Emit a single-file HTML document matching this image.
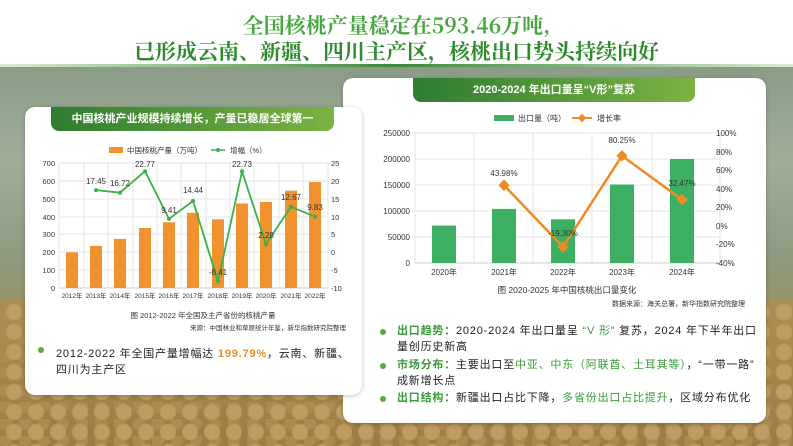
<!DOCTYPE html>
<html><head><meta charset="utf-8"><style>
*{margin:0;padding:0;box-sizing:border-box}
body{width:793px;height:446px;overflow:hidden;position:relative;font-family:"Liberation Sans","Noto Sans CJK SC",sans-serif;background:#fff}
.bg{position:absolute;left:0;top:66px;width:793px;height:380px;background:linear-gradient(180deg,#8a9c86 0%,#a0ae98 25%,#8e9a80 50%,#a08d5a 72%,#a88a4e 100%)}
.bg2{position:absolute;left:0;top:300px;width:793px;height:146px;background:radial-gradient(circle at 14px 12px,#c4a066 7px,transparent 9px) 0 0/22px 20px,radial-gradient(circle at 5px 4px,#b08a50 6px,transparent 8px) 0 0/19px 17px,linear-gradient(#b0904f,#9a7a45);opacity:.85}
.line{position:absolute;left:0;top:64px;width:793px;height:3px;background:linear-gradient(90deg,#d9ecd0,#3d8a3a 50%,#d9ecd0)}
.t{position:absolute;left:0;width:793px;text-align:center;font-family:"Noto Serif CJK SC","Liberation Serif",serif;font-weight:bold;font-size:21px;color:#48a640}
.panel{position:absolute;background:#fff;border-radius:10px;box-shadow:0 1px 4px rgba(0,0,0,.25)}
.hdr{position:absolute;background:linear-gradient(90deg,#2e7d32,#7cb342);color:#fff;font-size:11px;font-weight:bold;text-align:center;border-radius:0 0 8px 8px}
.txt{position:absolute;font-size:11px;color:#222;line-height:16px;letter-spacing:.8px}
.dot{position:absolute;width:6px;height:6px;border-radius:3px;background:#5aaa3a}
.g{color:#3a9a3a;font-weight:bold}
</style></head><body>
<div class="bg"></div><div class="bg2"></div><div class="line"></div>
<div class="t" style="top:10px">全国核桃产量稳定在593.46万吨,</div>
<div class="t" style="top:36px;color:#2d8a2d">已形成云南、新疆、四川主产区，核桃出口势头持续向好</div>

<div class="panel" style="left:343px;top:78px;width:423px;height:345px"></div>
<div class="hdr" style="left:413px;top:78px;width:282px;height:24px;line-height:24px">2020-2024 年出口量呈“V形”复苏</div>
<svg style="position:absolute;left:343px;top:102px" width="423" height="210" font-family="Liberation Sans,Noto Sans CJK SC,sans-serif" font-size="8" fill="#333">
<g transform="translate(-343,-102)">
<rect x="494" y="115" width="20" height="6" fill="#3cb060"/><text x="518" y="121">出口量（吨）</text>
<line x1="572" y1="118" x2="592" y2="118" stroke="#f08a24" stroke-width="2"/><rect x="579" y="115" width="6" height="6" fill="#f08a24" transform="rotate(45 582 118)"/><text x="597" y="121">增长率</text>
<g stroke="#e4e4e4" stroke-width="1">
<line x1="415" y1="133" x2="720" y2="133"/><line x1="415" y1="159" x2="720" y2="159"/><line x1="415" y1="185" x2="720" y2="185"/><line x1="415" y1="211" x2="720" y2="211"/><line x1="415" y1="237" x2="720" y2="237"/><line x1="415" y1="263" x2="720" y2="263" stroke="#ccc"/>
<line x1="415" y1="133" x2="415" y2="263"/><line x1="474" y1="133" x2="474" y2="263"/><line x1="533" y1="133" x2="533" y2="263"/><line x1="592" y1="133" x2="592" y2="263"/><line x1="652" y1="133" x2="652" y2="263"/><line x1="720" y1="133" x2="720" y2="263"/>
</g>
<g text-anchor="end"><text x="410" y="136">250000</text><text x="410" y="162">200000</text><text x="410" y="188">150000</text><text x="410" y="214">100000</text><text x="410" y="240">50000</text><text x="410" y="266">0</text></g>
<g><text x="716" y="136">100%</text><text x="716" y="155">80%</text><text x="716" y="173">60%</text><text x="716" y="192">40%</text><text x="716" y="210">20%</text><text x="716" y="229">0%</text><text x="716" y="247">-20%</text><text x="716" y="266">-40%</text></g>
<g fill="#3cb060"><rect x="432" y="225.6" width="24" height="37.4"/><rect x="492" y="208.9" width="24" height="54.1"/><rect x="551" y="219.3" width="24" height="43.7"/><rect x="610" y="184.5" width="24" height="78.5"/><rect x="670" y="159" width="24" height="104"/></g>
<polyline points="504,185.3 563,247 622,155.8 682,199.6" fill="none" stroke="#f08a24" stroke-width="2.5"/>
<g fill="#f08a24"><rect x="500" y="181.3" width="8" height="8" transform="rotate(45 504 185.3)"/><rect x="559" y="243" width="8" height="8" transform="rotate(45 563 247)"/><rect x="618" y="151.8" width="8" height="8" transform="rotate(45 622 155.8)"/><rect x="678" y="195.6" width="8" height="8" transform="rotate(45 682 199.6)"/></g>
<g text-anchor="middle"><text x="504" y="176">43.98%</text><text x="563" y="236">-19.30%</text><text x="622" y="143">80.25%</text><text x="682" y="186">32.47%</text>
<text x="444" y="275">2020年</text><text x="504" y="275">2021年</text><text x="563" y="275">2022年</text><text x="622" y="275">2023年</text><text x="682" y="275">2024年</text>
<text x="567" y="293" font-size="8.5">图 2020-2025 年中国核桃出口量变化</text></g>
<text x="745" y="306" text-anchor="end" font-size="7">数据来源：海关总署，新华指数研究院整理</text>
</g></svg>
<div class="dot" style="left:380px;top:329px"></div>
<div class="txt" style="left:397px;top:323px;width:362px"><span class="g">出口趋势：</span>2020-2024 年出口量呈 <span style="color:#3a9a3a">“V 形”</span> 复苏，2024 年下半年出口量创历史新高</div>
<div class="dot" style="left:380px;top:363px"></div>
<div class="txt" style="left:397px;top:357px;width:362px"><span class="g">市场分布：</span>主要出口至<span style="color:#3a9a3a">中亚、中东（阿联酋、土耳其等）</span>，“一带一路” 成新增长点</div>
<div class="dot" style="left:380px;top:396px"></div>
<div class="txt" style="left:397px;top:390px;width:362px"><span class="g">出口结构：</span>新疆出口占比下降，<span style="color:#3a9a3a">多省份出口占比提升</span>，区域分布优化</div>

<div class="panel" style="left:25px;top:107px;width:337px;height:288px"></div>
<div class="hdr" style="left:51px;top:107px;width:283px;height:24px;line-height:24px;border-radius:0 0 8px 8px">中国核桃产业规模持续增长，产量已稳居全球第一</div>
<svg style="position:absolute;left:0;top:0" width="380" height="340" font-family="Liberation Sans,Noto Sans CJK SC,sans-serif" font-size="7.5" fill="#333">
<rect x="109" y="147" width="14" height="6" fill="#f0922e"/><text x="127" y="153">中国核桃产量（万吨）</text>
<line x1="211" y1="150" x2="225" y2="150" stroke="#3cb04a" stroke-width="1.5"/><circle cx="218" cy="150" r="2" fill="#3cb04a"/><text x="230" y="153">增幅（%）</text>
<g stroke="#e6e6e6"><line x1="59" y1="163" x2="328" y2="163"/><line x1="59" y1="181" x2="328" y2="181"/><line x1="59" y1="199" x2="328" y2="199"/><line x1="59" y1="217" x2="328" y2="217"/><line x1="59" y1="234" x2="328" y2="234"/><line x1="59" y1="252" x2="328" y2="252"/><line x1="59" y1="270" x2="328" y2="270"/><line x1="59" y1="288" x2="328" y2="288" stroke="#ccc"/>
<line x1="59" y1="163" x2="59" y2="288"/><line x1="84" y1="163" x2="84" y2="288"/><line x1="108" y1="163" x2="108" y2="288"/><line x1="133" y1="163" x2="133" y2="288"/><line x1="157" y1="163" x2="157" y2="288"/><line x1="181" y1="163" x2="181" y2="288"/><line x1="206" y1="163" x2="206" y2="288"/><line x1="230" y1="163" x2="230" y2="288"/><line x1="254" y1="163" x2="254" y2="288"/><line x1="279" y1="163" x2="279" y2="288"/><line x1="303" y1="163" x2="303" y2="288"/><line x1="328" y1="163" x2="328" y2="288"/></g>
<g text-anchor="end"><text x="55" y="166">700</text><text x="55" y="184">600</text><text x="55" y="202">500</text><text x="55" y="220">400</text><text x="55" y="237">300</text><text x="55" y="255">200</text><text x="55" y="273">100</text><text x="55" y="291">0</text></g>
<g><text x="331" y="166">25</text><text x="331" y="184">20</text><text x="331" y="202">15</text><text x="331" y="220">10</text><text x="331" y="237">5</text><text x="331" y="255">0</text><text x="331" y="273">-5</text><text x="331" y="291">-10</text></g>
<g fill="#f0922e"><rect x="66" y="252.3" width="12" height="35.7"/><rect x="90" y="245.9" width="12" height="42.1"/><rect x="114" y="238.9" width="12" height="49.1"/><rect x="139" y="228" width="12" height="60"/><rect x="163" y="222.3" width="12" height="65.7"/><rect x="187" y="212.8" width="12" height="75.2"/><rect x="212" y="219.3" width="12" height="68.7"/><rect x="236" y="203.5" width="12" height="84.5"/><rect x="260" y="201.9" width="12" height="86.1"/><rect x="285" y="190.7" width="12" height="97.3"/><rect x="309" y="182.1" width="12" height="105.9"/></g>
<polyline points="96,190.1 120,192.7 145,171.2 169,218.9 193,201 218,281.3 242,171.4 266,244.1 291,206.7 315,216.8" fill="none" stroke="#3cb04a" stroke-width="1.8"/>
<g fill="#3cb04a"><circle cx="96" cy="190.1" r="2"/><circle cx="120" cy="192.7" r="2"/><circle cx="145" cy="171.2" r="2"/><circle cx="169" cy="218.9" r="2"/><circle cx="193" cy="201" r="2"/><circle cx="218" cy="281.3" r="2"/><circle cx="242" cy="171.4" r="2"/><circle cx="266" cy="244.1" r="2"/><circle cx="291" cy="206.7" r="2"/><circle cx="315" cy="216.8" r="2"/></g>
<g text-anchor="middle" font-size="8"><text x="96" y="184">17.45</text><text x="120" y="186">16.72</text><text x="145" y="167">22.77</text><text x="169" y="213">9.41</text><text x="193" y="193">14.44</text><text x="218" y="275">-8.41</text><text x="242" y="167">22.73</text><text x="266" y="238">2.28</text><text x="291" y="200">12.67</text><text x="315" y="210">9.83</text></g>
<g text-anchor="middle" font-size="6.5"><text x="72" y="298">2012年</text><text x="96" y="298">2013年</text><text x="120" y="298">2014年</text><text x="145" y="298">2015年</text><text x="169" y="298">2016年</text><text x="193" y="298">2017年</text><text x="218" y="298">2018年</text><text x="242" y="298">2019年</text><text x="266" y="298">2020年</text><text x="291" y="298">2021年</text><text x="315" y="298">2022年</text>
<text x="203" y="318" font-size="7.5">图 2012-2022 年全国及主产省份的核桃产量</text></g>
<text x="346" y="330" text-anchor="end" font-size="6.5">来源：中国林业和草原统计年鉴，新华指数研究院整理</text>
</svg>
<div class="dot" style="left:38px;top:347px"></div>
<div class="txt" style="left:56px;top:346px;width:300px;font-size:11px">2012-2022 年全国产量增幅达 <span style="color:#f08a24;font-weight:bold">199.79%</span>，云南、新疆、四川为主产区</div>
</body></html>
